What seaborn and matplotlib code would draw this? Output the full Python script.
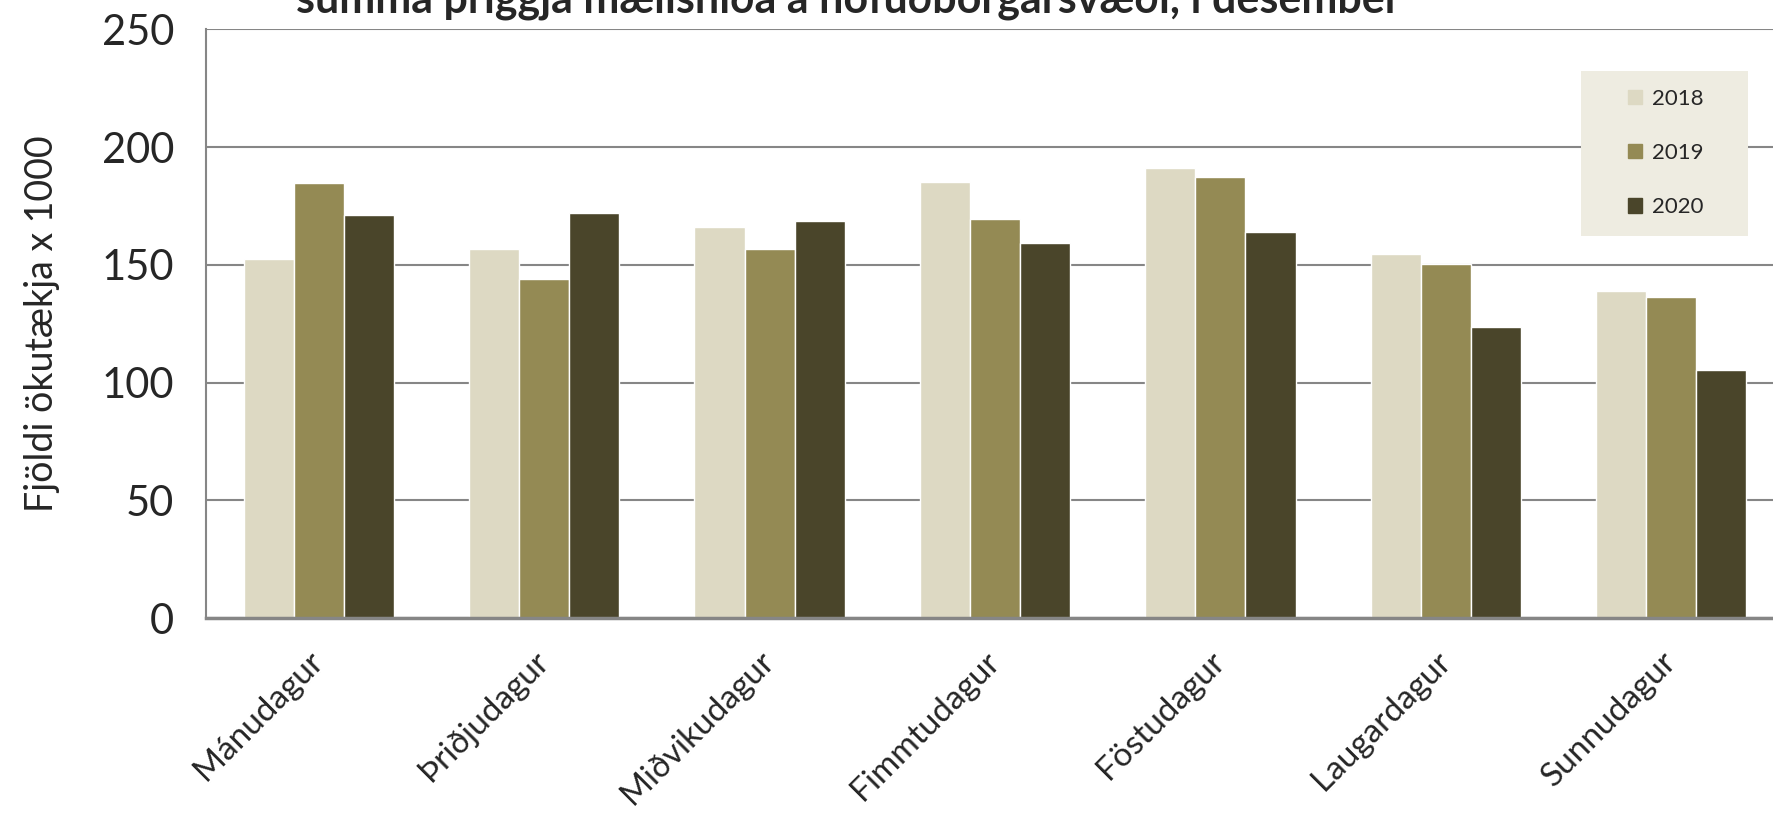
import pandas as pd
import matplotlib.pyplot as plt
import seaborn as sns

days = ['Mánudagur', 'Þriðjudagur', 'Miðvikudagur', 'Fimmtudagur',
        'Föstudagur', 'Laugardagur', 'Sunnudagur']
years = ['2018', '2019', '2020']
v2018 = [152.4, 156.7, 166.3, 185.1, 191.3, 154.8, 138.9]
v2019 = [184.6, 143.8, 156.7, 169.7, 187.5, 150.5, 136.5]
v2020 = [171.2, 172.1, 168.8, 159.1, 163.9, 123.6, 105.3]
yticks = [0, 50, 100, 150, 200, 250]

colors = ['#DDD9C3', '#948A54', '#4A452A']

df = pd.DataFrame({
    'dagur': days * 3,
    'ar': [y for y in years for _ in days],
    'fjoldi': v2018 + v2019 + v2020,
})

sns.set_style('white')
plt.rcParams['font.family'] = ['Lato', 'DejaVu Sans']

W, H = 1774, 815
fig = plt.figure(figsize=(W / 100, H / 100), dpi=100)
# the plot area runs a little past the right edge, as in the original export
ax = fig.add_axes([206 / W, 1 - 618 / H, 1578 / W, (618 - 29.5) / H])

sns.barplot(data=df, x='dagur', y='fjoldi', hue='ar', palette=colors,
            width=0.667, gap=0, saturation=1, ax=ax, legend=False)

ax.set_ylim(0, 250)
ax.set_xlim(-0.5, len(days) - 0.5)
ax.set_yticks(yticks)
ax.tick_params(axis='y', labelsize=30, length=9, width=1.5, color='#868686', pad=14)
ax.yaxis.grid(True, color='#868686', linewidth=1.5)
ax.set_axisbelow(True)

# tick marks between the categories, labels at the centres
ax.set_xticks([i - 0.5 for i in range(len(days) + 1)], minor=True)
ax.tick_params(axis='x', which='minor', length=10, width=1.5, color='#868686', direction='out')
ax.tick_params(axis='x', which='major', length=0, labelsize=24, pad=28)
ax.set_xticks(range(len(days)))
ax.set_xticklabels(days, rotation=45, ha='right', va='center', rotation_mode='anchor')

for s in ['top', 'right']:
    ax.spines[s].set_visible(False)
ax.spines['left'].set_color('#868686')
ax.spines['left'].set_linewidth(1.5)
ax.spines['bottom'].set_color('#868686')
ax.spines['bottom'].set_linewidth(2.5)

ax.set_xlabel('')
ax.set_ylabel('Fjöldi ökutækja x 1000', fontsize=27, labelpad=30)

fig.text(0.478, 1 - 13 / H, 'summa þriggja mælisniða á höfuðborgarsvæði, í desember',
         ha='center', va='baseline', fontsize=31, fontweight='bold')

# legend box
box = plt.Rectangle((1581 / W, 1 - 236 / H), (1748 - 1581) / W, (236 - 71) / H,
                    transform=fig.transFigure, facecolor='#EEECE1', edgecolor='none', zorder=5)
fig.patches.append(box)
handles = [plt.Rectangle((0, 0), 1, 1, color=c) for c in colors]
leg = fig.legend(handles, years, loc='center', bbox_to_anchor=(1666 / W, 1 - 153 / H),
                 fontsize=16, frameon=False, handlelength=0.62, handleheight=0.62,
                 labelspacing=1.55, handletextpad=0.45, borderaxespad=0)
leg.set_zorder(6)

fig.savefig('out.png', dpi=100)
